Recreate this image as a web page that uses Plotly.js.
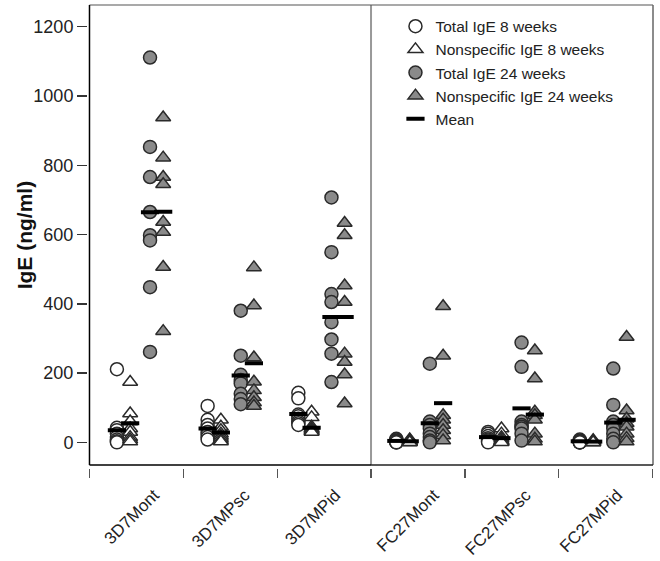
<!DOCTYPE html>
<html>
<head>
<meta charset="utf-8">
<script src="https://cdn.plot.ly/plotly-3.0.1.min.js"></script>
<style>html,body{margin:0;padding:0;background:#fff;}#chart{width:660px;height:561px;}</style>
</head>
<body>
<div id="chart"></div>
<script>
// Categories (first three in the left panel, last three in the right panel)
const groups = ['3D7Mont', '3D7MPsc', '3D7MPid', 'FC27Mont', 'FC27MPsc', 'FC27MPid'];

// Individual values (ng/ml), one inner array per group
const total8 = [
  [211, 42, 35, 25, 15, 8, 3, 0],
  [105, 65, 50, 40, 30, 22, 15, 8],
  [143, 127, 80, 75, 68, 60, 55, 50],
  [10, 8, 5, 3, 2, 0, 0, 0],
  [30, 25, 18, 12, 8, 5, 2, 0],
  [8, 5, 3, 2, 0, 0, 0, 0]
];
const nonspec8 = [
  [174, 83, 60, 40, 30, 15, 8, 2],
  [65, 45, 35, 25, 18, 12, 6, 2],
  [88, 72, 45, 40, 38, 35, 32, 30],
  [8, 6, 4, 2, 1, 0, 0, 0],
  [40, 25, 15, 10, 5, 3, 1, 0],
  [6, 4, 2, 1, 0, 0, 0, 0]
];
const total24 = [
  [1111, 853, 766, 665, 598, 583, 448, 261],
  [380, 250, 195, 180, 170, 140, 125, 110],
  [707, 549, 428, 405, 347, 297, 256, 174],
  [227, 60, 50, 40, 25, 15, 5, 0],
  [288, 218, 60, 50, 45, 40, 25, 5],
  [213, 108, 60, 50, 40, 25, 10, 0]
];
const nonspec24 = [
  [938, 822, 766, 745, 636, 607, 506, 321],
  [505, 395, 245, 175, 150, 130, 115, 105],
  [633, 598, 453, 405, 256, 232, 196, 112],
  [393, 250, 78, 65, 50, 35, 20, 5],
  [265, 184, 88, 78, 65, 25, 10, 2],
  [304, 92, 68, 55, 45, 25, 12, 2]
];

// Means
const meanTotal8 = [35, 40, 82, 4, 15, 3];
const meanNonspec8 = [55, 28, 42, 3, 12, 2];
const meanTotal24 = [664, 193, 362, 55, 98, 57];
const meanNonspec24 = [666, 228, 362, 113, 80, 65];

const yTicks = [0, 200, 400, 600, 800, 1000, 1200];

// Within-group column offsets (axis units)
const offs = {t8: -0.26, n8: -0.114, t24: 0.105, n24: 0.25};

// group gi -> panel axis ('x' for 0..2, 'x2' for 3..5), position = gi+1
function splitSeries(series, off) {
  const a = {x: [], y: []}, b = {x: [], y: []};
  series.forEach((vals, gi) => vals.forEach(v => {
    const t = gi < 3 ? a : b;
    t.x.push(gi + 1 + off); t.y.push(v);
  }));
  return [a, b];
}
function splitMeans(means, off) {
  const a = {x: [], y: []}, b = {x: [], y: []};
  means.forEach((v, gi) => { const t = gi < 3 ? a : b; t.x.push(gi + 1 + off); t.y.push(v); });
  return [a, b];
}

const FONT = 'Liberation Sans, Arial, Helvetica, sans-serif';
const edge = '#2a2a2a';
const grey = '#8a8a8a';
const msize = 13;

const seriesDefs = [
  {name: 'Total IgE 8 weeks', data: total8, off: offs.t8, symbol: 'circle', fill: '#ffffff'},
  {name: 'Nonspecific IgE 8 weeks', data: nonspec8, off: offs.n8, symbol: 'triangle-up', fill: '#ffffff'},
  {name: 'Total IgE 24 weeks', data: total24, off: offs.t24, symbol: 'circle', fill: grey},
  {name: 'Nonspecific IgE 24 weeks', data: nonspec24, off: offs.n24, symbol: 'triangle-up', fill: grey}
];

const traces = [];
seriesDefs.forEach(s => {
  const parts = splitSeries(s.data, s.off);
  parts.forEach((p, k) => {
    traces.push({type: 'scatter', mode: 'markers', name: s.name, legendgroup: s.name, showlegend: k === 0,
      x: p.x, y: p.y, xaxis: k === 0 ? 'x' : 'x2', yaxis: 'y',
      marker: {symbol: s.symbol, size: msize, color: s.fill, line: {color: edge, width: 1.5}}});
  });
});

const meanSets = [[meanTotal8, offs.t8], [meanNonspec8, offs.n8], [meanTotal24, offs.t24], [meanNonspec24, offs.n24]];
meanSets.forEach((ms, i) => {
  const parts = splitMeans(ms[0], ms[1]);
  parts.forEach((p, k) => {
    traces.push({type: 'scatter', mode: 'markers', name: 'Mean', legendgroup: 'mean', showlegend: i === 0 && k === 0,
      x: p.x, y: p.y, xaxis: k === 0 ? 'x' : 'x2', yaxis: 'y',
      marker: {symbol: 'line-ew', size: 13, color: '#000', line: {color: '#000', width: 4}}});
  });
});

const labShift = 0.15;
const commonX = {
  anchor: 'free', position: 0, ticks: '', tickangle: -45,
  tickfont: {family: FONT, size: 17, color: '#222'}, ticklabelstandoff: 13,
  showgrid: false, zeroline: false, showline: false, fixedrange: true
};

const layout = {
  width: 660, height: 561,
  margin: {l: 87, r: 7, t: 5, b: 93, pad: 0},
  paper_bgcolor: '#ffffff', plot_bgcolor: 'rgba(0,0,0,0)',
  font: {family: FONT, color: '#222', size: 15.5},
  showlegend: true,
  legend: {x: 0.545, y: 0.99, xanchor: 'left', yanchor: 'top', bgcolor: 'rgba(0,0,0,0)',
    font: {family: FONT, size: 15.5, color: '#222'}, tracegroupgap: 0},
  xaxis: Object.assign({}, commonX, {
    domain: [0.0044, 0.5018], range: [0.4377, 3.541],
    tickmode: 'array', tickvals: [1 + labShift, 2 + labShift, 3 + labShift], ticktext: groups.slice(0, 3),
    minor: {tickmode: 'array', tickvals: [0.44, 1.472, 2.509, 3.54], ticks: 'outside', ticklen: 9, tickwidth: 1.5, tickcolor: '#555', showgrid: false}
  }),
  xaxis2: Object.assign({}, commonX, {
    domain: [0.5018, 1], range: [3.464, 6.538],
    tickmode: 'array', tickvals: [4 + labShift, 5 + labShift, 6 + labShift], ticktext: groups.slice(3),
    minor: {tickmode: 'array', tickvals: [4.49, 5.51, 6.535], ticks: 'outside', ticklen: 9, tickwidth: 1.5, tickcolor: '#555', showgrid: false}
  }),
  yaxis: {domain: [0.0065, 1], range: [-65.5, 1262.7], anchor: 'free', position: 0,
    tickmode: 'array', tickvals: yTicks, ticks: 'outside', ticklen: 10, tickwidth: 1.5, tickcolor: '#333',
    tickfont: {family: FONT, size: 18, color: '#222'},
    showgrid: false, zeroline: false, showline: false, fixedrange: true},
  annotations: [
    {text: '<b>IgE (ng/ml)</b>', xref: 'paper', yref: 'y domain', x: -0.109, y: 0.5,
      xanchor: 'center', yanchor: 'middle', textangle: -90, showarrow: false,
      font: {family: FONT, size: 21, color: '#111'}}
  ],
  shapes: [
    // top and right borders
    {type: 'line', xref: 'x domain', yref: 'y domain', x0: 0, x1: 1, y0: 1, y1: 1, line: {color: '#555', width: 1.2}},
    {type: 'line', xref: 'x2 domain', yref: 'y domain', x0: 0, x1: 1, y0: 1, y1: 1, line: {color: '#555', width: 1.2}},
    {type: 'line', xref: 'x2 domain', yref: 'y domain', x0: 1, x1: 1, y0: 0, y1: 1, line: {color: '#666', width: 1.5}},
    // panel divider
    {type: 'line', xref: 'x domain', yref: 'y domain', x0: 1, x1: 1, y0: 0, y1: 1, line: {color: '#999', width: 2}, layer: 'below'},
    // left and bottom axis lines
    {type: 'line', xref: 'x domain', yref: 'y domain', x0: 0, x1: 0, y0: 0, y1: 1, line: {color: '#000', width: 1.5}},
    {type: 'line', xref: 'x domain', yref: 'y domain', x0: 0, x1: 1, y0: 0, y1: 0, line: {color: '#000', width: 1.5}},
    {type: 'line', xref: 'x2 domain', yref: 'y domain', x0: 0, x1: 1, y0: 0, y1: 0, line: {color: '#222', width: 1.5}}
  ]
};

Plotly.newPlot('chart', traces, layout, {staticPlot: true, displayModeBar: false});
</script>
</body>
</html>
